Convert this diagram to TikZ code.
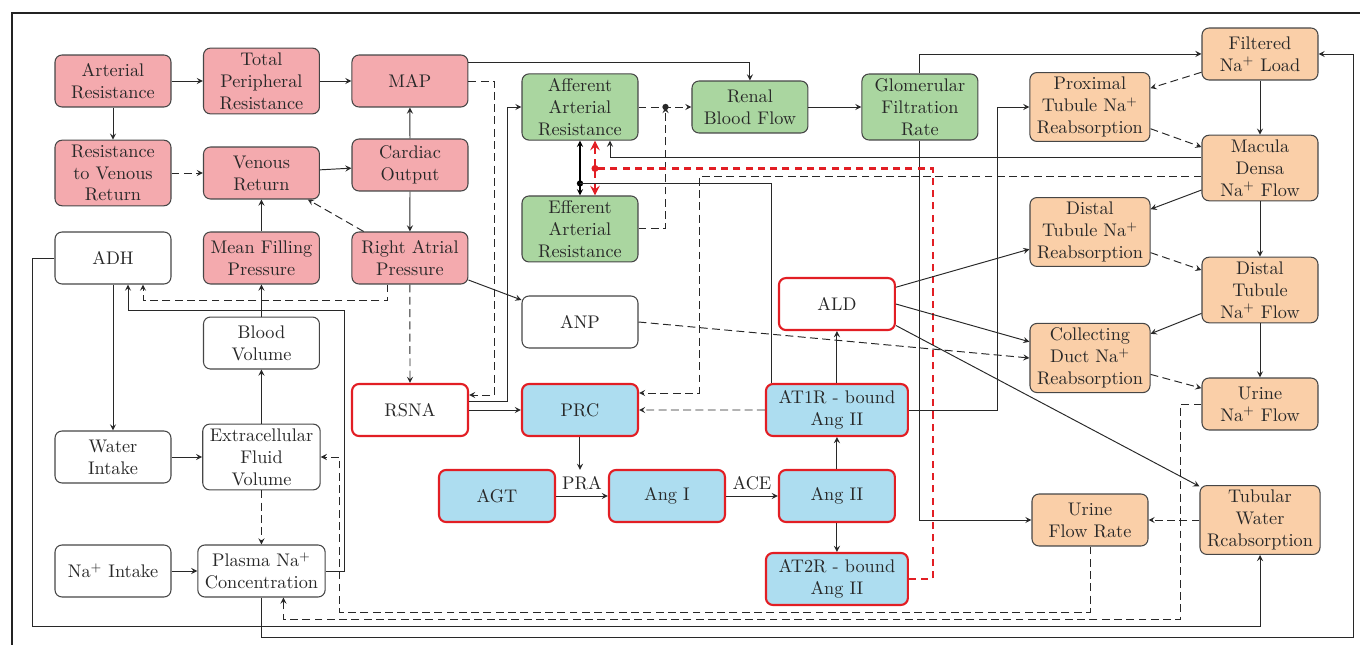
\documentclass[tikz,border=0pt]{standalone}
\usetikzlibrary{arrows}

\definecolor{cardiopink}{RGB}{244,170,174}
\definecolor{renalgreen}{RGB}{170,214,160}
\definecolor{tubuleorange}{RGB}{250,207,168}
\definecolor{raasblue}{RGB}{173,221,240}
\definecolor{raasred}{RGB}{226,30,36}
\definecolor{edgegray}{RGB}{70,70,70}
\definecolor{inkgray}{RGB}{40,40,40}
\definecolor{framegray}{RGB}{35,35,35}

\begin{document}
\begin{tikzpicture}[
    x=0.02cm, y=-0.02cm,
    node distance=3.4cm,
    blockbase/.style={rectangle, draw=edgegray, semithick, rounded corners=4pt, align=center, minimum width=2.32cm, minimum height=1.04cm, inner xsep=4pt, inner ysep=2.5pt, text=inkgray, font=\fontsize{10.4}{12.5}\selectfont},
    cardio/.style={blockbase, fill=cardiopink},
    renal/.style={blockbase, fill=renalgreen},
    tubule/.style={blockbase, fill=tubuleorange},
    neutral/.style={blockbase, fill=white},
    raas/.style={blockbase, draw=raasred, very thick, fill=raasblue},
    raasw/.style={blockbase, draw=raasred, very thick, fill=white},
    arrow/.style={->, >=stealth, line width=0.55pt, draw=inkgray},
    darrow/.style={arrow, dash pattern=on 4.5pt off 2.5pt},
    redarrow/.style={->, >=stealth, line width=1.4pt, draw=raasred, dash pattern=on 4pt off 3pt}
]
\useasboundingbox (0,0) rectangle (1360,645);
\draw[line width=1.5pt, framegray] (12,645) |- (1360,13);

\node[cardio] (art) at (113,81) {Arterial\\Resistance};
\node[cardio, right of=art, node distance=2.97cm] (tpr) {Total\\Peripheral\\Resistance};
\node[cardio, right of=tpr, node distance=2.97cm] (map) {MAP};
\node[cardio] (rvr) at (113,173) {Resistance\\to Venous\\Return};
\node[cardio, right of=rvr, node distance=2.97cm] (vr) {Venous\\Return};
\node[cardio] (co) at (410,165) {Cardiac\\Output};
\node[neutral] (adh) at (113,258) {ADH};
\node[cardio, right of=adh, node distance=2.97cm] (mfp) {Mean Filling\\Pressure};
\node[cardio, right of=mfp, node distance=2.97cm] (rap) {Right Atrial\\Pressure};
\node[neutral] (wi) at (113,457) {Water\\Intake};
\node[neutral, right of=wi, node distance=2.97cm] (ecfv) {Extracellular\\Fluid\\Volume};
\node[neutral, above of=ecfv, node distance=2.28cm] (bv) {Blood\\Volume};
\node[neutral] (nai) at (113,571) {Na$^+$ Intake};
\node[neutral, right of=nai, node distance=2.97cm] (pna) {Plasma Na$^+$\\Concentration};
\node[raasw] (rsna) at (410,410) {RSNA};

\node[renal] (aff) at (580,107) {Afferent\\Arterial\\Resistance};
\node[renal, right of=aff] (rbf) {Renal\\Blood Flow};
\node[renal, right of=rbf] (gfr) {Glomerular\\Filtration\\Rate};
\node[renal, below of=aff, node distance=2.44cm] (eff) {Efferent\\Arterial\\Resistance};
\node[neutral] (anp) at (580,322) {ANP};
\node[raas, right of=rsna] (prc) {PRC};

\node[raas] (agt) at (497,496) {AGT};
\node[raas, right of=agt] (angi) {Ang I};
\node[raas, right of=angi] (angii) {Ang II};
\node[raas, above of=angii, node distance=1.72cm, minimum width=2.84cm] (at1r) {AT1R - bound\\Ang II};
\node[raas, below of=angii, node distance=1.66cm, minimum width=2.84cm] (at2r) {AT2R - bound\\Ang II};
\node[raasw, above of=at1r, node distance=2.12cm] (ald) {ALD};

\node[tubule, right of=gfr] (ptr) {Proximal\\Tubule Na$^+$\\Reabsorption};
\node[tubule] (fnl) at (1260,54) {Filtered\\Na$^+$ Load};
\node[tubule] (md) at (1260,168) {Macula\\Densa\\Na$^+$ Flow};
\node[tubule] (dtr) at (1090,232) {Distal\\Tubule Na$^+$\\Reabsorption};
\node[tubule] (dtf) at (1260,290) {Distal\\Tubule\\Na$^+$ Flow};
\node[tubule] (cdr) at (1090,358) {Collecting\\Duct Na$^+$\\Reabsorption};
\node[tubule] (unf) at (1260,404) {Urine\\Na$^+$ Flow};
\node[tubule] (ufr) at (1090,520) {Urine\\Flow Rate};
\node[tubule] (twr) at (1260,520) {Tubular\\Water\\Rcabsorption};

\draw[arrow] (art) -- (tpr);
\draw[arrow] (tpr) -- (map);
\draw[arrow] (art) -- (rvr);
\draw[darrow] (rvr) -- (vr);
\draw[arrow] (vr) -- (co);
\draw[arrow] (co) -- (map);
\draw[arrow] (co) -- (rap);
\draw[darrow] (rap) -- (vr);
\draw[arrow] (mfp) -- (vr);
\draw[arrow] (bv) -- (mfp);
\draw[arrow] (ecfv) -- (bv);
\draw[arrow] (wi) -- (ecfv);
\draw[arrow] (nai) -- (pna);
\draw[darrow] (ecfv) -- (pna);
\draw[arrow] (adh) -- (wi);
\draw[darrow] (rap) -- (rsna);
\draw[arrow] (rap) -- (anp);
\draw[darrow] ([shift={(-22,0)}]rap.south) |- ([shift={(30,16)}]adh.south) -- ([shift={(30,0)}]adh.south);
\draw[arrow] (pna.east) -- ++(19,0) |- ([shift={(15,26)}]adh.south) -- ([shift={(15,0)}]adh.south);
\draw[arrow] (adh.west) -- ++(-22,0) |- ([shift={(0,71)}]twr.south) -- (twr.south);
\draw[arrow] (pna.south) |- ([shift={(35,583)}]fnl.east) |- (fnl.east);
\draw[darrow] (ufr.south) |- ([shift={(19,155)}]ecfv.east) |- (ecfv.east);
\draw[darrow] (unf.west) -- ++(-21,0) |- ([shift={(22,22)}]pna.south) -- ([shift={(22,0)}]pna.south);

\draw[arrow] ([shift={(0,-19)}]map.east) -| (rbf.north);
\draw[darrow] (map.east) -- ++(26,0) |- ([shift={(0,-15)}]rsna.east);
\draw[arrow] ([shift={(0,-9)}]rsna.east) -- ++(38,0) |- (aff.west);
\draw[arrow] (rsna) -- (prc);

\coordinate (mix) at ([shift={(27,0)}]aff.east);
\draw[darrow] (aff) -- (rbf);
\draw[darrow] (eff.east) -| (mix);
\fill[inkgray] (mix) circle (1.8pt);
\draw[arrow] (rbf) -- (gfr);
\draw[arrow] (gfr.north) |- (fnl.west);
\draw[arrow] (gfr.south) |- (ufr.west);

\coordinate (aejoin) at ([shift={(0,-12)}]eff.north);
\draw[arrow, <->, draw=black, semithick] (aff) -- (eff);
\fill (aejoin) circle (1.8pt);
\draw[line width=0.55pt, inkgray] ([shift={(7,0)}]at1r.north west) |- (aejoin);
\coordinate (at2join) at ([shift={(15,-27)}]eff.north);
\draw[redarrow, <->] ([shift={(15,0)}]aff.south) -- ([shift={(15,0)}]eff.north);
\draw[redarrow, -] (at2r.east) -- ++(24,0) |- (at2join);
\fill[raasred] (at2join) circle (2pt);

\draw[arrow] (agt) -- node[above, text=inkgray, font=\fontsize{10.4}{12.5}\selectfont] (pra) {PRA} (angi);
\draw[arrow] (angi) -- node[above, text=inkgray, font=\fontsize{10.4}{12.5}\selectfont] (ace) {ACE} (angii);
\draw[arrow] (prc) -- (prc |- pra.north);
\draw[arrow] (angii) -- (at1r);
\draw[arrow] (angii) -- (at2r);
\draw[arrow] (at1r) -- (ald);
\draw[darrow] (at1r) -- (prc);
\draw[arrow] (at1r.east) -- ++(89,0) |- (ptr.west);

\draw[arrow] (fnl) -- (md);
\draw[darrow] (fnl) -- (ptr);
\draw[darrow] (ptr) -- (md);
\draw[arrow] ([shift={(0,-11)}]md.west) -| ([shift={(30,0)}]aff.south);
\draw[darrow] ([shift={(0,8)}]md.west) -| ([shift={(60,-17)}]prc.east) -- ([shift={(0,-17)}]prc.east);
\draw[arrow] (md) -- (dtr);
\draw[arrow] (md) -- (dtf);
\draw[darrow] (dtr) -- (dtf);
\draw[arrow] (dtf) -- (cdr);
\draw[arrow] (dtf) -- (unf);
\draw[darrow] (cdr) -- (unf);
\draw[darrow] (twr) -- (ufr);
\draw[arrow] (ald) -- (dtr);
\draw[arrow] (ald.east) -- (cdr.165);
\draw[arrow] (ald.-20) -- (twr.151);
\draw[darrow] (anp.east) -- (cdr.west);

\end{tikzpicture}
\end{document}
